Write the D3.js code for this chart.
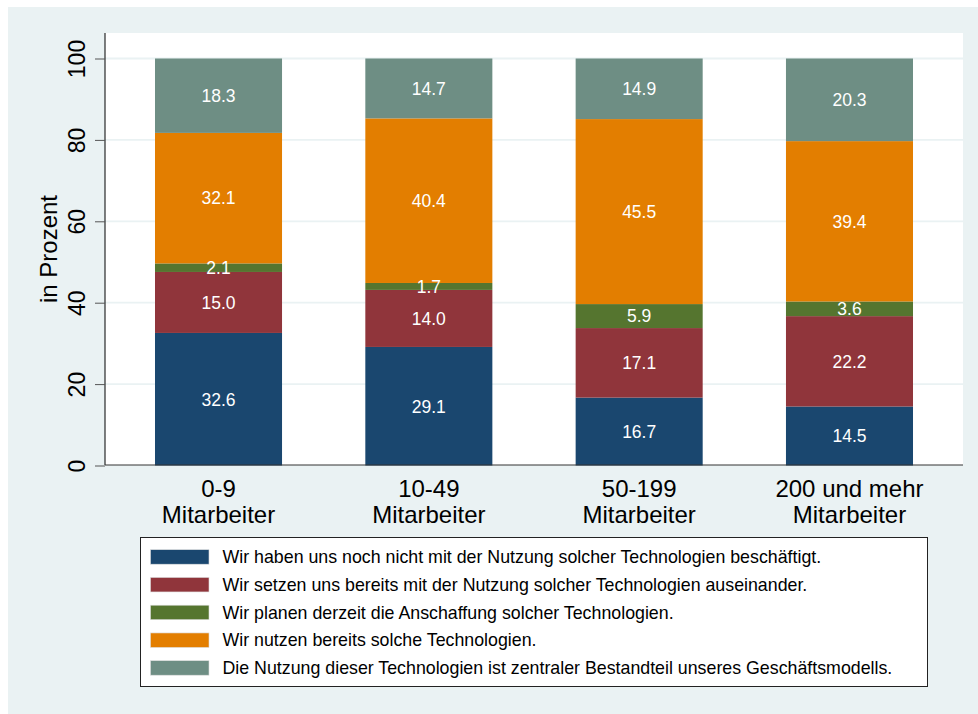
<!DOCTYPE html>
<html>
<head>
<meta charset="utf-8">
<script src="https://cdn.jsdelivr.net/npm/d3@7"></script>
<style>
  body { margin: 0; background: #fff; }
  svg { display: block; font-family: "Liberation Sans", Arial, sans-serif; }
</style>
</head>
<body>
<svg id="chart" width="978" height="714"></svg>
<script>
// categories (two-line labels)
var categories = ["0-9", "10-49", "50-199", "200 und mehr"];
var catLine2 = ["Mitarbeiter", "Mitarbeiter", "Mitarbeiter", "Mitarbeiter"];

// series values in percent, bottom to top
var nochNicht = [32.6, 29.1, 16.7, 14.5];
var auseinander = [15.0, 14.0, 17.1, 22.2];
var planen = [2.1, 1.7, 5.9, 3.6];
var nutzen = [32.1, 40.4, 45.5, 39.4];
var zentral = [18.3, 14.7, 14.9, 20.3];

var seriesNames = [
  "Wir haben uns noch nicht mit der Nutzung solcher Technologien beschäftigt.",
  "Wir setzen uns bereits mit der Nutzung solcher Technologien auseinander.",
  "Wir planen derzeit die Anschaffung solcher Technologien.",
  "Wir nutzen bereits solche Technologien.",
  "Die Nutzung dieser Technologien ist zentraler Bestandteil unseres Geschäftsmodells."
];
var yTicks = [0, 20, 40, 60, 80, 100];

var colors = ["#1a476f", "#90353b", "#55752f", "#e37e00", "#6e8e84"];
var keys = ["s0", "s1", "s2", "s3", "s4"];
var allSeries = [nochNicht, auseinander, planen, nutzen, zentral];

var data = categories.map(function(c, i) {
  var row = { cat: c };
  keys.forEach(function(k, j) { row[k] = allSeries[j][i]; });
  return row;
});

var svg = d3.select("#chart");
var plot = { left: 105, right: 963, top: 33, bottom: 465 };

// background
svg.append("rect")
  .attr("x", 8).attr("y", 7)
  .attr("width", 970).attr("height", 707)
  .attr("fill", "#eaf2f3");
svg.append("rect")
  .attr("x", plot.left).attr("y", plot.top)
  .attr("width", plot.right - plot.left).attr("height", plot.bottom - plot.top)
  .attr("fill", "#fff");

var xScale = d3.scaleBand()
  .domain(categories)
  .range([113.35, 954.65])
  .paddingInner(0.396)
  .paddingOuter(0.198);

var yScale = d3.scaleLinear()
  .domain([0, 100])
  .range([465.5, 58.5]);

// gridlines
svg.append("g")
  .selectAll("line")
  .data(yTicks.filter(function(t) { return t > 0; }))
  .enter().append("line")
  .attr("x1", plot.left).attr("x2", plot.right)
  .attr("y1", function(d) { return yScale(d); })
  .attr("y2", function(d) { return yScale(d); })
  .attr("stroke", "#eaf2f3")
  .attr("stroke-width", 1.8);

// stacks, normalized so every bar tops at 100
var stack = d3.stack().keys(keys).offset(d3.stackOffsetExpand);
var layers = stack(data);

var g = svg.append("g");
layers.forEach(function(layer, j) {
  g.append("g")
    .attr("fill", colors[j])
    .selectAll("rect")
    .data(layer)
    .enter().append("rect")
    .attr("x", function(d) { return xScale(d.data.cat); })
    .attr("width", xScale.bandwidth())
    .attr("y", function(d) { return yScale(d[1] * 100); })
    .attr("height", function(d) { return yScale(d[0] * 100) - yScale(d[1] * 100); });
});

// value labels
layers.forEach(function(layer, j) {
  g.append("g")
    .selectAll("text")
    .data(layer)
    .enter().append("text")
    .attr("x", function(d) { return xScale(d.data.cat) + xScale.bandwidth() / 2; })
    .attr("y", function(d) { return yScale((d[0] + d[1]) * 50); })
    .attr("dy", "0.36em")
    .attr("text-anchor", "middle")
    .attr("fill", "#fff")
    .style("font-size", "17.5px")
    .text(function(d) { return d.data[keys[j]].toFixed(1); });
});

// y axis
var yAxis = svg.append("g")
  .attr("transform", "translate(" + plot.left + ",0)")
  .call(d3.axisLeft(yScale).tickValues(yTicks).tickSize(10).tickPadding(10));
yAxis.select(".domain")
  .attr("d", "M0," + plot.top + "V" + plot.bottom)
  .attr("stroke", "#000");
yAxis.selectAll(".tick line").attr("stroke", "#555");
yAxis.selectAll(".tick text")
  .attr("x", null).attr("dy", null)
  .attr("text-anchor", "middle")
  .attr("transform", "translate(-20,0) rotate(-90)")
  .attr("fill", "#000")
  .style("font-size", "23px");

svg.append("text")
  .attr("transform", "translate(56.5," + (plot.top + plot.bottom) / 2 + ") rotate(-90)")
  .attr("text-anchor", "middle")
  .attr("fill", "#000")
  .style("font-size", "24px")
  .text("in Prozent");

// x axis
var xAxis = svg.append("g")
  .attr("transform", "translate(0," + plot.bottom + ")")
  .call(d3.axisBottom(xScale).tickSize(0).tickFormat(""));
xAxis.select(".domain")
  .attr("d", "M" + plot.left + ",0H" + plot.right)
  .attr("stroke", "#333");

var xl = svg.append("g").selectAll("text")
  .data(categories)
  .enter().append("text")
  .attr("text-anchor", "middle")
  .attr("fill", "#000")
  .style("font-size", "24px");
xl.append("tspan")
  .attr("x", function(d) { return xScale(d) + xScale.bandwidth() / 2; })
  .attr("y", 497)
  .text(function(d) { return d; });
xl.append("tspan")
  .attr("x", function(d) { return xScale(d) + xScale.bandwidth() / 2; })
  .attr("y", 522.5)
  .text(function(d, i) { return catLine2[i]; });

// legend
var legend = svg.append("g");
legend.append("rect")
  .attr("x", 140.5).attr("y", 537.5)
  .attr("width", 787).attr("height", 149)
  .attr("fill", "#fff")
  .attr("stroke", "#222")
  .attr("stroke-width", 1);

var rowY = d3.scaleLinear().domain([0, 4]).range([556.7, 667.7]);
var items = legend.selectAll(".item")
  .data(seriesNames)
  .enter().append("g")
  .attr("class", "item")
  .attr("transform", function(d, i) { return "translate(0," + rowY(i) + ")"; });
items.append("rect")
  .attr("x", 150.5).attr("y", -7)
  .attr("width", 58.5).attr("height", 14.5)
  .attr("fill", function(d, i) { return colors[i]; })
  .attr("stroke", "#ddd")
  .attr("stroke-width", 0.6);
items.append("text")
  .attr("x", 222.5)
  .attr("dy", "0.36em")
  .attr("fill", "#000")
  .style("font-size", "17.8px")
  .text(function(d) { return d; });
</script>
</body>
</html>
